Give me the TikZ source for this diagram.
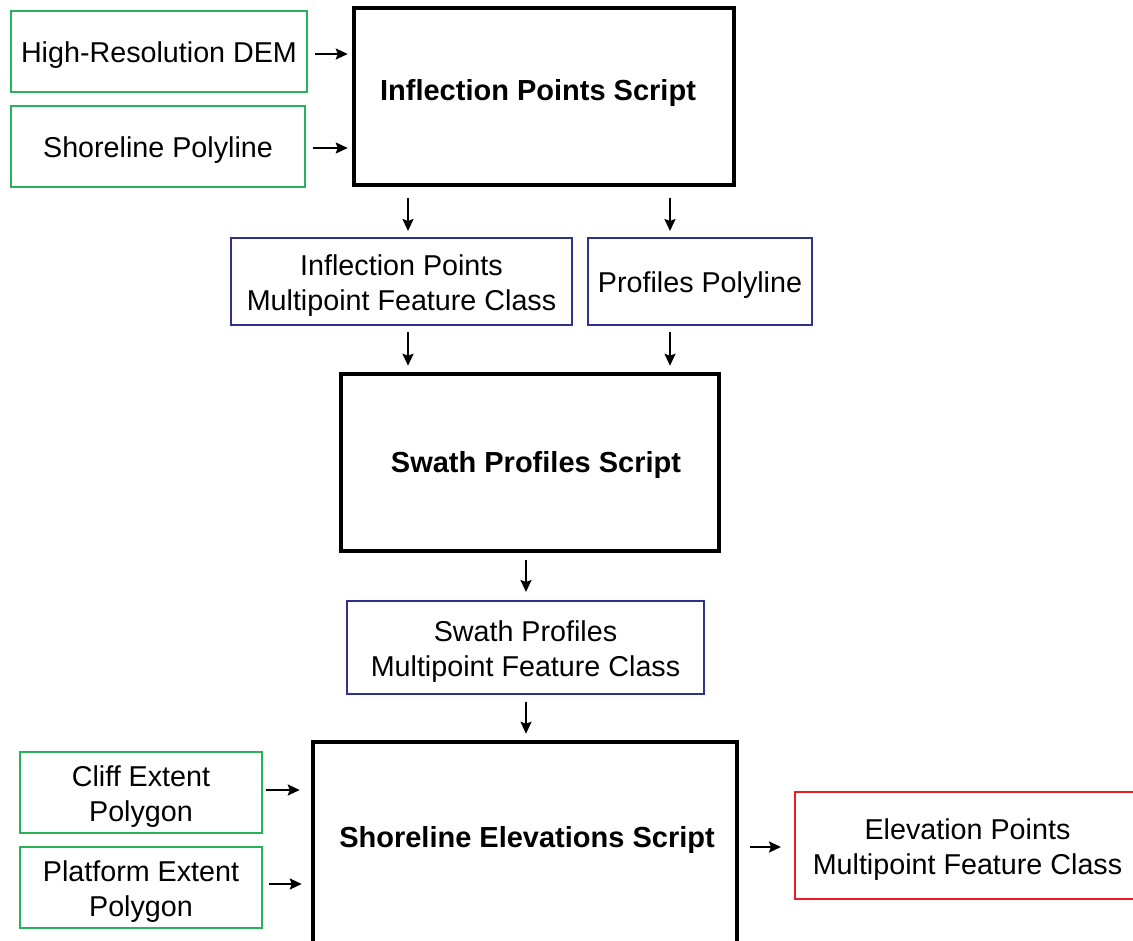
\documentclass[tikz,border=0pt]{standalone}
\usepackage{fontspec}
\setmainfont{Liberation Sans}
\usetikzlibrary{calc,arrows.meta}
\definecolor{ingreen}{RGB}{40,178,90}
\definecolor{midblue}{RGB}{46,49,146}
\definecolor{outred}{RGB}{237,28,36}
\tikzset{
  boxtext/.style={align=center, inner sep=0pt, font=\fontsize{28.7}{34.8}\selectfont},
  databox/.style={draw, line width=2pt, inner sep=0pt},
  inbox/.style={databox, draw=ingreen},
  midbox/.style={databox, draw=midblue},
  outbox/.style={databox, draw=outred},
  inside/.style={label={[boxtext, yshift=-4pt]center:#1}},
  scriptbox/.style={draw=black, line width=4.5pt, inner sep=0pt},
  scripttext/.style={font=\fontsize{29}{35}\selectfont\bfseries, inner sep=0pt, anchor=base},
  flow/.style={line width=2pt, -{Stealth[length=12pt,width=11pt,inset=2pt]}},
}
\begin{document}
\begin{tikzpicture}[x=1pt,y=-1pt]
\useasboundingbox[fill=white] (0,0) rectangle (1133,941);

% script boxes
\node[scriptbox, minimum width=380pt, minimum height=177pt] (ips) at (544,96.5) {};
\node[scripttext] (ipsT) at (538,101) {Inflection Points Script};
\node[scriptbox, minimum width=378pt, minimum height=177pt] (sps) at (530,462.5) {};
\node[scripttext] (spsT) at (536,472) {Swath Profiles Script};
\node[scriptbox, minimum width=424pt, minimum height=218pt] (ses) at (525,851) {};
\node[scripttext] (sesT) at (527,847) {Shoreline Elevations Script};

% inputs
\node[inbox, minimum width=296pt, minimum height=81pt, inside={High-Resolution DEM}] (dem) at (159,51.5) {};
\node[inbox, minimum width=294pt, minimum height=81pt, inside={Shoreline Polyline}] (shore) at (158,146.5) {};
\node[inbox, minimum width=242pt, minimum height=81pt, inside={Cliff Extent\\Polygon}] (cliff) at (141,792.5) {};
\node[inbox, minimum width=242pt, minimum height=81pt, inside={Platform Extent\\Polygon}] (plat) at (141,887.5) {};

% intermediate products
\node[midbox, minimum width=341pt, minimum height=87pt, inside={Inflection Points\\Multipoint Feature Class}] (ipm) at (401.5,281.5) {};
\node[midbox, minimum width=224pt, minimum height=87pt, inside={Profiles Polyline}] (prof) at (700,281.5) {};
\node[midbox, minimum width=357pt, minimum height=93pt, inside={Swath Profiles\\Multipoint Feature Class}] (spm) at (525.5,647.5) {};

% output
\node[outbox, minimum width=345pt, minimum height=107pt, inside={Elevation Points\\Multipoint Feature Class}] (elev) at (967.5,845.5) {};

% connectors
\draw[flow, shorten <=7pt, shorten >=4pt] ($(dem.east)+(0,2.5)$) -- ($(dem.east -| ips.west)+(0,2.5)$);
\draw[flow, shorten <=7pt, shorten >=4pt] ($(shore.east)+(0,1.5)$) -- ($(shore.east -| ips.west)+(0,1.5)$);

\draw[flow, shorten <=11pt, shorten >=6pt] ($(ips.south -| ipm.north)+(6.5,0)$) -- ($(ipm.north)+(6.5,0)$);
\draw[flow, shorten <=11pt, shorten >=6pt] ($(ips.south -| prof.north)+(-30,0)$) -- ($(prof.north)+(-30,0)$);
\draw[flow, shorten <=6pt, shorten >=6pt] ($(ipm.south)+(6.5,0)$) -- ($(sps.north -| ipm.south)+(6.5,0)$);
\draw[flow, shorten <=6pt, shorten >=6pt] ($(prof.south)+(-30,0)$) -- ($(sps.north -| prof.south)+(-30,0)$);

\draw[flow, shorten <=7pt, shorten >=8pt] ($(sps.south)+(-4,0)$) -- ($(sps.south |- spm.north)+(-4,0)$);
\draw[flow, shorten <=7pt, shorten >=6pt] ($(spm.south)+(0.5,0)$) -- ($(ses.north -| spm.south)+(0.5,0)$);

\draw[flow, shorten <=3pt, shorten >=11pt] ($(cliff.east)+(0,-2.5)$) -- ($(cliff.east -| ses.west)+(0,-2.5)$);
\draw[flow, shorten <=6pt, shorten >=9pt] ($(plat.east)+(0,-3.5)$) -- ($(plat.east -| ses.west)+(0,-3.5)$);
\draw[flow, shorten <=11pt, shorten >=13pt] ($(ses.east |- elev.west)+(0,1.5)$) -- ($(elev.west)+(0,1.5)$);
\end{tikzpicture}
\end{document}
